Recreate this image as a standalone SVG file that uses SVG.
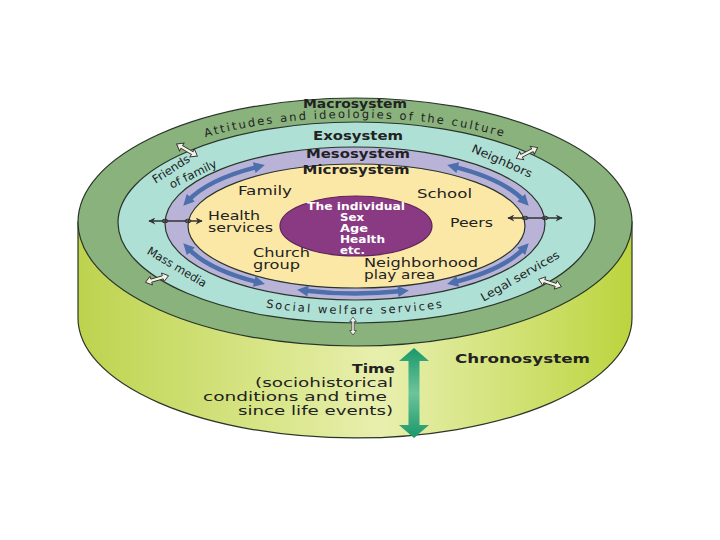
<svg xmlns="http://www.w3.org/2000/svg" width="720" height="540" viewBox="0 0 720 540">
<defs>
<style>
.t{font-family:"DejaVu Sans","Liberation Sans",sans-serif;font-size:11.5px;fill:#222}
.b{font-weight:bold}
.w{fill:#fff;font-weight:bold;font-size:10px}
.edge{stroke:#2a352a;stroke-width:1.2}
.blue{fill:none;stroke:#4d6fab;stroke-width:4.5;marker-start:url(#bh);marker-end:url(#bh)}
.hollow{fill:#f2f2e6;stroke:#333;stroke-width:0.9}
.dark{stroke:#333;stroke-width:1.3;fill:none;marker-start:url(#dh);marker-end:url(#dh)}
.bead{fill:none;stroke:#333;stroke-width:1}
</style>
<linearGradient id="side" x1="0" y1="0" x2="1" y2="0">
<stop offset="0" stop-color="#bdd34e"/>
<stop offset="0.35" stop-color="#d9e68a"/>
<stop offset="0.55" stop-color="#e8efae"/>
<stop offset="0.8" stop-color="#d0e172"/>
<stop offset="1" stop-color="#bcd43e"/>
</linearGradient>
<linearGradient id="timeg" x1="0" y1="0" x2="0" y2="1">
<stop offset="0" stop-color="#1a986a"/>
<stop offset="0.5" stop-color="#6cc49b"/>
<stop offset="1" stop-color="#1a986a"/>
</linearGradient>
<marker id="bh" viewBox="0 0 10 10" refX="4" refY="5" markerWidth="12" markerHeight="11" markerUnits="userSpaceOnUse" orient="auto-start-reverse">
<path d="M0,0 L10,5 L0,10 Z" fill="#4d6fab"/>
</marker>
<marker id="dh" viewBox="0 0 10 10" refX="9" refY="5" markerWidth="8" markerHeight="7" markerUnits="userSpaceOnUse" orient="auto-start-reverse">
<path d="M0,0 L10,5 L0,10 L3,5 Z" fill="#333"/>
</marker>
<path id="dbl" d="M-12,0 L-6,-4.5 L-6,-1.6 L6,-1.6 L6,-4.5 L12,0 L6,4.5 L6,1.6 L-6,1.6 L-6,4.5 Z"/>
<path id="arcTop" d="M180,145.5 A258,104 0 0 1 530,145.5"/>
<path id="arcBot" d="M245,303.8 A240,92 0 0 0 465,303.8"/>
</defs>

<rect width="720" height="540" fill="#fff"/>

<g id="chronosystem">
<path d="M78,222 L78,318 A277,120 0 0 0 632,318 L632,222 Z" fill="url(#side)" class="edge"/>
<text class="t b" x="455" y="363" font-size="13" textLength="135" lengthAdjust="spacingAndGlyphs">Chronosystem</text>
<text class="t b" x="395" y="373" font-size="12.5" text-anchor="end" textLength="43" lengthAdjust="spacingAndGlyphs">Time</text>
<text class="t" x="393" y="387" font-size="12.5" text-anchor="end" textLength="138" lengthAdjust="spacingAndGlyphs">(sociohistorical</text>
<text class="t" x="387" y="401" font-size="12.5" text-anchor="end" textLength="184" lengthAdjust="spacingAndGlyphs">conditions and time</text>
<text class="t" x="393" y="415" font-size="12.5" text-anchor="end" textLength="155" lengthAdjust="spacingAndGlyphs">since life events)</text>
</g>

<g id="macrosystem">
<ellipse cx="355" cy="222" rx="277" ry="124" fill="#89b27c" class="edge"/>
<text class="t b" x="355" y="108" font-size="12.5" text-anchor="middle" textLength="104" lengthAdjust="spacingAndGlyphs">Macrosystem</text>
<text class="t" font-size="12.5" letter-spacing="2.1"><textPath href="#arcTop" startOffset="50%" text-anchor="middle">Attitudes and ideologies of the culture</textPath></text>
</g>

<g id="exosystem">
<ellipse cx="356.5" cy="222.5" rx="238.5" ry="100.5" fill="#afe0d6" class="edge"/>
<text class="t b" x="358" y="139.5" font-size="12.5" text-anchor="middle" textLength="90" lengthAdjust="spacingAndGlyphs">Exosystem</text>
<g transform="translate(171,169) rotate(-33)"><text class="t" x="0" y="4" font-size="11" text-anchor="middle" textLength="42" lengthAdjust="spacingAndGlyphs">Friends</text></g>
<g transform="translate(193,174) rotate(-26)"><text class="t" x="0" y="4" font-size="11" text-anchor="middle" textLength="51" lengthAdjust="spacingAndGlyphs">of family</text></g>
<g transform="translate(502,161) rotate(24)"><text class="t" x="0" y="4" font-size="11" text-anchor="middle" textLength="65" lengthAdjust="spacingAndGlyphs">Neighbors</text></g>
<g transform="translate(177,267) rotate(31)"><text class="t" x="0" y="4" font-size="11" text-anchor="middle" textLength="67" lengthAdjust="spacingAndGlyphs">Mass media</text></g>
<g transform="translate(520,276) rotate(-30)"><text class="t" x="0" y="4" font-size="11" text-anchor="middle" textLength="89" lengthAdjust="spacingAndGlyphs">Legal services</text></g>
<text class="t" font-size="12.5" letter-spacing="2.1"><textPath href="#arcBot" startOffset="50%" text-anchor="middle">Social welfare services</textPath></text>
</g>

<g id="mesosystem">
<ellipse cx="355" cy="223.5" rx="190" ry="76.5" fill="#b9b3d8" class="edge"/>
<text class="t b" x="358" y="158" font-size="12.5" text-anchor="middle" textLength="104" lengthAdjust="spacingAndGlyphs">Mesosystem</text>
</g>

<g id="microsystem">
<ellipse cx="356.5" cy="226" rx="168.5" ry="62" fill="#fbe8a6" class="edge"/>
<text class="t b" x="356" y="173.5" font-size="12.5" text-anchor="middle" textLength="107" lengthAdjust="spacingAndGlyphs">Microsystem</text>
<text class="t" x="238" y="195" textLength="54" lengthAdjust="spacingAndGlyphs">Family</text>
<text class="t" x="417" y="198" textLength="55" lengthAdjust="spacingAndGlyphs">School</text>
<text class="t" x="208" y="220" textLength="52" lengthAdjust="spacingAndGlyphs">Health</text>
<text class="t" x="208" y="232" textLength="65" lengthAdjust="spacingAndGlyphs">services</text>
<text class="t" x="450" y="227" textLength="43" lengthAdjust="spacingAndGlyphs">Peers</text>
<text class="t" x="253" y="257" textLength="57" lengthAdjust="spacingAndGlyphs">Church</text>
<text class="t" x="253" y="269" textLength="47" lengthAdjust="spacingAndGlyphs">group</text>
<text class="t" x="364" y="266.5" textLength="114" lengthAdjust="spacingAndGlyphs">Neighborhood</text>
<text class="t" x="364" y="278.5" textLength="71" lengthAdjust="spacingAndGlyphs">play area</text>
</g>

<g id="individual">
<ellipse cx="356" cy="226" rx="76" ry="30" fill="#8a3a83" stroke="#5e2358" stroke-width="1.2"/>
<text class="t w" x="356" y="210" text-anchor="middle" textLength="98" lengthAdjust="spacingAndGlyphs">The individual</text>
<text class="t w" x="340" y="220.5" textLength="24" lengthAdjust="spacingAndGlyphs">Sex</text>
<text class="t w" x="340" y="231.5" textLength="28" lengthAdjust="spacingAndGlyphs">Age</text>
<text class="t w" x="340" y="242.5" textLength="45" lengthAdjust="spacingAndGlyphs">Health</text>
<text class="t w" x="340" y="253.5" textLength="25" lengthAdjust="spacingAndGlyphs">etc.</text>
</g>

<g id="connectors">
<path class="blue" d="M187.8,200.9 A179,69 0 0 1 258.5,166.6"/>
<path class="blue" d="M453.5,166.6 A179,69 0 0 1 524.2,200.9"/>
<path class="blue" d="M187.8,248.1 A179,69 0 0 0 258.5,282.4"/>
<path class="blue" d="M303.7,290.5 A179,69 0 0 0 402.3,291.1"/>
<path class="blue" d="M453.5,282.4 A179,69 0 0 0 524.2,248.1"/>

<path class="dark" d="M149,221 H202"/>
<ellipse class="bead" cx="165" cy="221" rx="3" ry="1.8"/>
<ellipse class="bead" cx="188" cy="221" rx="3" ry="1.8"/>
<path class="dark" d="M508,218 H562"/>
<ellipse class="bead" cx="525" cy="218" rx="3" ry="1.8"/>
<ellipse class="bead" cx="545" cy="218" rx="3" ry="1.8"/>

<use href="#dbl" class="hollow" transform="translate(187,150) rotate(30)"/>
<use href="#dbl" class="hollow" transform="translate(527,153) rotate(-27)"/>
<use href="#dbl" class="hollow" transform="translate(157,279) rotate(-16)"/>
<use href="#dbl" class="hollow" transform="translate(550,283) rotate(18)"/>
<use href="#dbl" class="hollow" transform="translate(353,326) rotate(90) scale(0.75)"/>

<polygon points="414,348 429,361 419.5,361 419.5,425 429,425 414,438 399,425 408.5,425 408.5,361 399,361" fill="url(#timeg)"/>
</g>
</svg>
